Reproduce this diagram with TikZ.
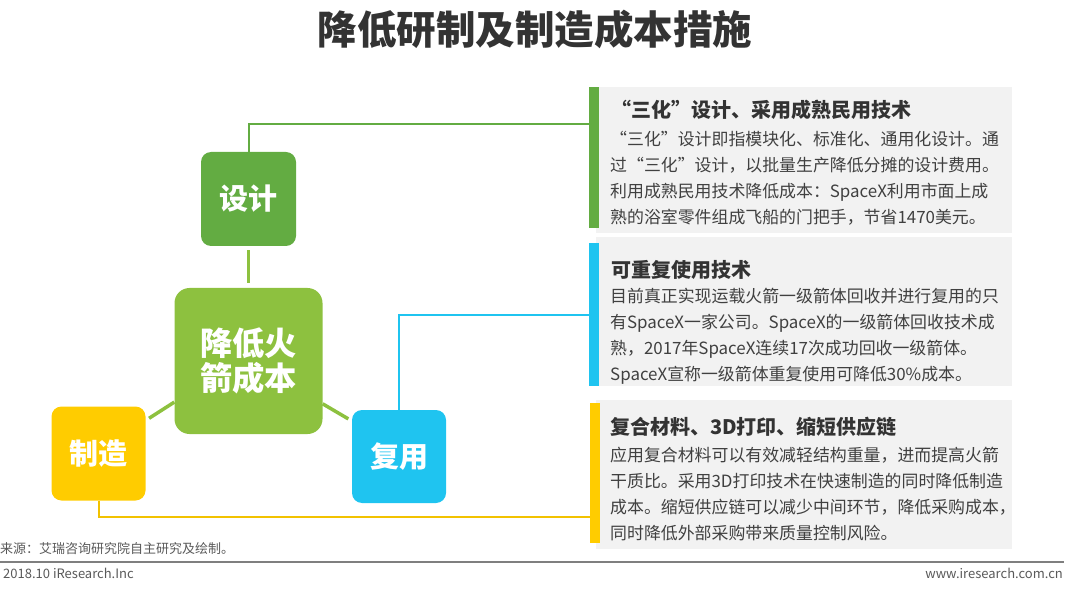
\documentclass[tikz,border=0pt]{standalone}
\usepackage{fontspec}
\setmainfont{Noto Sans CJK SC}
\XeTeXlinebreaklocale "zh"
\XeTeXlinebreakskip=0pt plus 3pt minus 0.3pt
\definecolor{cSheji}{HTML}{63AC42}
\definecolor{cCenter}{HTML}{8DC13F}
\definecolor{cYellow}{HTML}{FFCC00}
\definecolor{cBlue}{HTML}{1FC4F0}
\definecolor{cPanel}{HTML}{F2F2F2}
\definecolor{cTitle}{HTML}{333333}
\definecolor{cBody}{HTML}{404040}
\definecolor{cFoot}{HTML}{595959}
\definecolor{cRule}{HTML}{7F7F7F}
\begin{document}
\begin{tikzpicture}[x=1pt,y=-1pt,
  keybox/.style={rounded corners=10pt, text=white, inner sep=0pt, align=center,
    font=\bfseries\fontsize{29}{35}\selectfont},
  cline/.style={draw=cCenter, line width=3.5pt},
  tline/.style={line width=2pt},
  ttl/.style={anchor=base west, inner sep=0pt, text=cTitle, font=\bfseries\fontsize{20}{24}\selectfont},
  bdy/.style={anchor=base west, inner sep=0pt, text=cBody, font=\fontsize{16.9}{26}\selectfont},
  foot/.style={inner sep=0pt, text=cFoot, font=\fontsize{13}{16}\selectfont},
]
\useasboundingbox (0,0) rectangle (1070,593);

% title
\node[anchor=base, inner sep=0pt, text=cTitle, font=\bfseries\fontsize{39.5}{44}\selectfont] (title) at (535,45) {降低研制及制造成本措施};

% panels
\fill[cPanel] (596,87) rectangle (1012,233);
\fill[cPanel] (596,237) rectangle (1012,386);
\fill[cPanel] (596,400) rectangle (1012,549);
\node[fill=cSheji, inner sep=0pt, minimum width=10pt, minimum height=141pt] (bar1) at (594,157.5) {};
\node[fill=cBlue, inner sep=0pt, minimum width=10pt, minimum height=143pt] (bar2) at (594,314.5) {};
\node[fill=cYellow, inner sep=0pt, minimum width=10pt, minimum height=140pt] (bar3) at (595,473) {};

% key boxes
\node[keybox, fill=cSheji, minimum width=95pt, minimum height=94pt] (sj) at (248.5,199) {设计};
\node[keybox, fill=cCenter, rounded corners=15pt, minimum width=148pt, minimum height=146pt,
      font=\bfseries\fontsize{32.3}{35}\selectfont] (c) at (248.5,361) {降低火\\箭成本};
\node[keybox, fill=cYellow, minimum width=94pt, minimum height=94pt] (zz) at (98.5,453.5) {制造};
\node[keybox, fill=cBlue, minimum width=94pt, minimum height=93pt] (fy) at (399,456.5) {复用};

% connectors
\coordinate (p1in) at (589,124);
\coordinate (p2in) at (589,315);
\coordinate (p3in) at (590,517);
\draw[tline, draw=cSheji] (sj.north) |- (p1in);
\draw[tline, draw=cBlue] (fy.north) |- (p2in);
\draw[tline, draw=cYellow!95!black] (zz.south) |- (p3in);
\draw[cline, shorten <=4pt, shorten >=5pt] (sj.south) -- (c.north);
\draw[cline, shorten >=4pt] (c.209.4) -- (zz.35);
\draw[cline, shorten >=4pt] (c.330.3) -- (fy.143);

% panel 1 text
\node[ttl] (t1) at (611,117.6) {“三化”设计、采用成熟民用技术};
\node[bdy] (t1a) at (610,145.5) {\makebox[391pt][s]{“三化”设计即指模块化、标准化、通用化设计。通}};
\node[bdy] (t1b) at (610,171.5) {\makebox[391pt][s]{过“三化”设计，以批量生产降低分摊的设计费用。}};
\node[bdy] (t1c) at (610,197.5) {\makebox[391pt][s]{利用成熟民用技术降低成本：SpaceX利用市面上成}};
\node[bdy] (t1d) at (610,223.5) {熟的浴室零件组成飞船的门把手，节省1470美元。};

% panel 2 text
\node[ttl] (t2) at (611,277.6) {可重复使用技术};
\node[bdy] (t2a) at (610,302.5) {\makebox[391pt][s]{目前真正实现运载火箭一级箭体回收并进行复用的只}};
\node[bdy] (t2b) at (610,328.5) {\makebox[391pt][s]{有SpaceX一家公司。SpaceX的一级箭体回收技术成}};
\node[bdy] (t2c) at (610,354.5) {\makebox[391pt][s]{熟，2017年SpaceX连续17次成功回收一级箭体。}};
\node[bdy] (t2d) at (610,380.5) {SpaceX宣称一级箭体重复使用可降低30\%成本。};

% panel 3 text
\node[ttl] (t3) at (610,434.6) {复合材料、3D打印、缩短供应链};
\node[bdy] (t3a) at (610,461.5) {\makebox[391pt][s]{应用复合材料可以有效减轻结构重量，进而提高火箭}};
\node[bdy] (t3b) at (610,487.5) {\makebox[391pt][s]{干质比。采用3D打印技术在快速制造的同时降低制造}};
\node[bdy] (t3c) at (610,513.5) {\makebox[391pt][s]{成本。缩短供应链可以减少中间环节，降低采购成本，}};
\node[bdy] (t3d) at (610,539) {同时降低外部采购带来质量控制风险。};

% footer
\node[foot, anchor=base west] (src) at (0,553) {来源：艾瑞咨询研究院自主研究及绘制。};
\coordinate (rl) at (0,562);
\coordinate (rr) at (1064,562);
\draw[cRule, line width=1.2pt] (rl) -- (rr);
\node[foot, anchor=base west] (date) at (3,578) {2018.10 iResearch.Inc};
\node[foot, anchor=base east] (web) at (1063,578) {www.iresearch.com.cn};
\end{tikzpicture}
\end{document}
